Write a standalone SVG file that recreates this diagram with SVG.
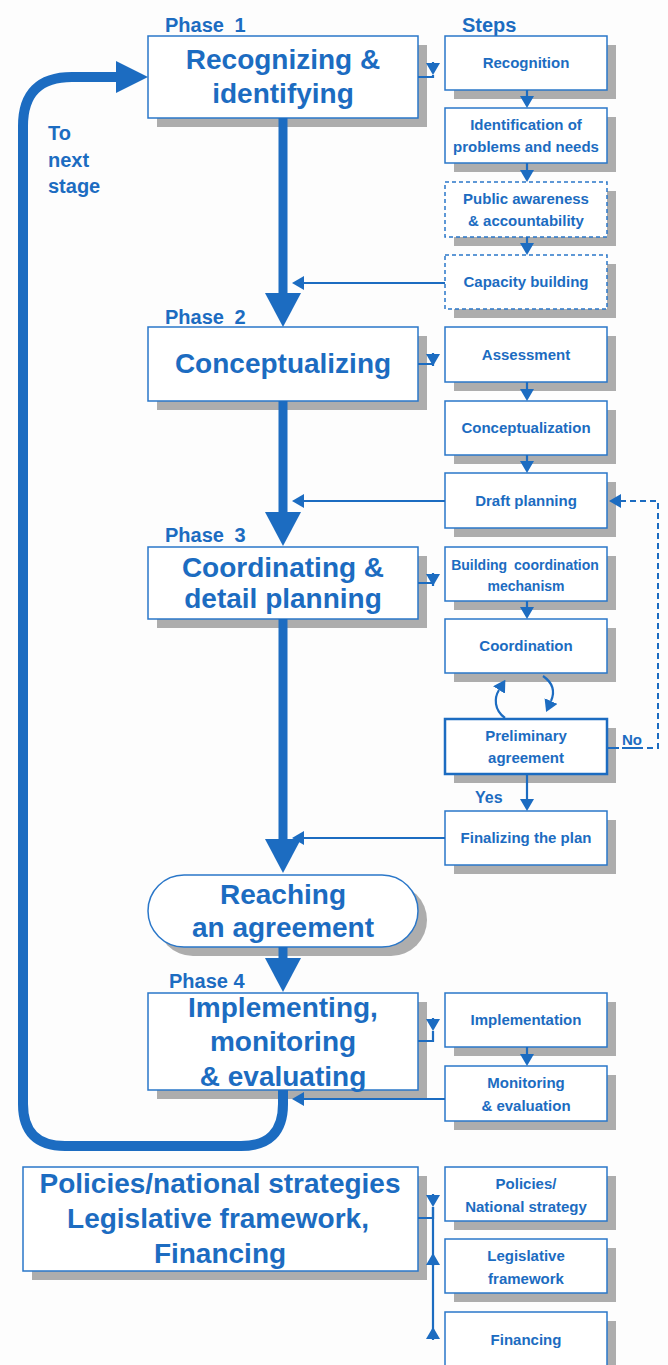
<svg xmlns="http://www.w3.org/2000/svg" width="668" height="1365" viewBox="0 0 668 1365">
<defs>
<style>
.bg{fill:#fdfdfd}
.sh{fill:#adadad}
.box{fill:#fff;stroke:#2a77c9;stroke-width:1.5}
.dash{stroke-dasharray:4 3}
.thick{stroke-width:2.5;stroke:#1c6cc1}
text{font-family:"Liberation Sans",Arial,sans-serif;font-weight:bold;fill:#1c6cc1}
.big{font-size:28px;text-anchor:middle}
.st{font-size:15px;text-anchor:middle}
.st14{font-size:14px;text-anchor:middle}
.lbl{font-size:20px}
.ln{fill:none;stroke:#1c6cc1;stroke-width:2.2}
.main{fill:none;stroke:#1c6cc1;stroke-width:9}
.loop{fill:none;stroke:#1c6cc1;stroke-width:10}
.dl{fill:none;stroke:#1c6cc1;stroke-width:2;stroke-dasharray:6 4}
</style>
<marker id="ah" viewBox="0 0 12 14" refX="0" refY="7" markerWidth="12" markerHeight="14" markerUnits="userSpaceOnUse" orient="auto"><path d="M0,0 L12,7 L0,14 Z" fill="#1c6cc1"/></marker>
<marker id="bigah" viewBox="0 0 34 36" refX="0" refY="18" markerWidth="34" markerHeight="36" markerUnits="userSpaceOnUse" orient="auto"><path d="M0,0 L34,18 L0,36 Z" fill="#1c6cc1"/></marker>
<marker id="loopah" viewBox="0 0 32 32" refX="0" refY="16" markerWidth="32" markerHeight="32" markerUnits="userSpaceOnUse" orient="auto"><path d="M0,0 L32,16 L0,32 Z" fill="#1c6cc1"/></marker>
</defs>
<rect class="bg" x="0" y="0" width="668" height="1365"/>

<g id="labels">
<text class="lbl" x="165" y="32" word-spacing="5">Phase 1</text>
<text class="lbl" x="462" y="32">Steps</text>
<text class="lbl" x="165" y="324" word-spacing="5">Phase 2</text>
<text class="lbl" x="165" y="542" word-spacing="5">Phase 3</text>
<text class="lbl" x="169" y="988">Phase 4</text>
<text class="lbl" x="48" y="140">To</text>
<text class="lbl" x="48" y="167">next</text>
<text class="lbl" x="48" y="193">stage</text>
<text x="475" y="803" font-size="16">Yes</text>
<text x="622" y="745" font-size="15">No</text>
</g>

<g id="phase1">
<rect class="sh" x="157" y="45" width="270" height="82"/>
<rect class="box" x="148" y="36" width="270" height="82"/>
<text class="big" x="283" y="69">Recognizing &amp;</text>
<text class="big" x="283" y="103">identifying</text>
</g>
<g id="phase2">
<rect class="sh" x="157" y="336" width="270" height="74"/>
<rect class="box" x="148" y="327" width="270" height="74"/>
<text class="big" x="283" y="373">Conceptualizing</text>
</g>
<g id="phase3">
<rect class="sh" x="157" y="556" width="270" height="72"/>
<rect class="box" x="148" y="547" width="270" height="72"/>
<text class="big" x="283" y="577">Coordinating &amp;</text>
<text class="big" x="283" y="608">detail planning</text>
</g>
<g id="reaching">
<rect class="sh" x="157" y="884" width="270" height="72" rx="36"/>
<rect class="box" x="148" y="875" width="270" height="72" rx="36"/>
<text class="big" x="283" y="904">Reaching</text>
<text class="big" x="283" y="937">an agreement</text>
</g>
<g id="phase4">
<rect class="sh" x="157" y="1002" width="270" height="97"/>
<rect class="box" x="148" y="993" width="270" height="97"/>
<text class="big" x="283" y="1017">Implementing,</text>
<text class="big" x="283" y="1051">monitoring</text>
<text class="big" x="283" y="1086">&amp; evaluating</text>
</g>
<g id="policies">
<rect class="sh" x="32" y="1176" width="395" height="104"/>
<rect class="box" x="23" y="1167" width="395" height="104"/>
<text class="big" x="220" y="1193">Policies/national strategies</text>
<text class="big" x="218" y="1228">Legislative framework,</text>
<text class="big" x="220" y="1263">Financing</text>
</g>

<g id="s-recognition">
<rect class="sh" x="454" y="45" width="162" height="54"/>
<rect class="box" x="445" y="36" width="162" height="54"/>
<text class="st" x="526" y="68">Recognition</text>
</g>
<g id="s-identification">
<rect class="sh" x="454" y="117" width="162" height="55"/>
<rect class="box" x="445" y="108" width="162" height="55"/>
<text class="st" x="526" y="130">Identification of</text>
<text class="st" x="526" y="152">problems and needs</text>
</g>
<g id="s-public">
<rect class="sh" x="454" y="191" width="162" height="55"/>
<rect class="box dash" x="445" y="182" width="162" height="55"/>
<text class="st" x="526" y="204">Public awareness</text>
<text class="st" x="526" y="226">&amp; accountability</text>
</g>
<g id="s-capacity">
<rect class="sh" x="454" y="264" width="162" height="54"/>
<rect class="box dash" x="445" y="255" width="162" height="54"/>
<text class="st" x="526" y="287">Capacity building</text>
</g>
<g id="s-assessment">
<rect class="sh" x="454" y="336" width="162" height="55"/>
<rect class="box" x="445" y="327" width="162" height="55"/>
<text class="st" x="526" y="360">Assessment</text>
</g>
<g id="s-conceptualization">
<rect class="sh" x="454" y="410" width="162" height="54"/>
<rect class="box" x="445" y="401" width="162" height="54"/>
<text class="st" x="526" y="433">Conceptualization</text>
</g>
<g id="s-draft">
<rect class="sh" x="454" y="482" width="162" height="55"/>
<rect class="box" x="445" y="473" width="162" height="55"/>
<text class="st" x="526" y="506">Draft planning</text>
</g>
<g id="s-building">
<rect class="sh" x="454" y="556" width="162" height="54"/>
<rect class="box" x="445" y="547" width="162" height="54"/>
<text class="st14" x="525" y="570" word-spacing="3">Building coordination</text>
<text class="st14" x="526" y="591">mechanism</text>
</g>
<g id="s-coordination">
<rect class="sh" x="454" y="628" width="162" height="54"/>
<rect class="box" x="445" y="619" width="162" height="54"/>
<text class="st" x="526" y="651">Coordination</text>
</g>
<g id="s-preliminary">
<rect class="sh" x="454" y="728" width="162" height="55"/>
<rect class="box thick" x="445" y="719" width="162" height="55"/>
<text class="st" x="526" y="741">Preliminary</text>
<text class="st" x="526" y="763">agreement</text>
</g>
<g id="s-finalizing">
<rect class="sh" x="454" y="820" width="162" height="54"/>
<rect class="box" x="445" y="811" width="162" height="54"/>
<text class="st" x="526" y="843">Finalizing the plan</text>
</g>
<g id="s-implementation">
<rect class="sh" x="454" y="1002" width="162" height="54"/>
<rect class="box" x="445" y="993" width="162" height="54"/>
<text class="st" x="526" y="1025">Implementation</text>
</g>
<g id="s-monitoring">
<rect class="sh" x="454" y="1075" width="162" height="55"/>
<rect class="box" x="445" y="1066" width="162" height="55"/>
<text class="st" x="526" y="1088">Monitoring</text>
<text class="st" x="526" y="1111">&amp; evaluation</text>
</g>
<g id="s-policies">
<rect class="sh" x="454" y="1176" width="162" height="54"/>
<rect class="box" x="445" y="1167" width="162" height="54"/>
<text class="st" x="526" y="1189">Policies/</text>
<text class="st" x="526" y="1212">National strategy</text>
</g>
<g id="s-legislative">
<rect class="sh" x="454" y="1248" width="162" height="54"/>
<rect class="box" x="445" y="1239" width="162" height="54"/>
<text class="st" x="526" y="1261">Legislative</text>
<text class="st" x="526" y="1284">framework</text>
</g>
<g id="s-financing">
<rect class="sh" x="454" y="1321" width="162" height="56"/>
<rect class="box" x="445" y="1312" width="162" height="56"/>
<text class="st" x="526" y="1345">Financing</text>
</g>

<g id="connectors">
<path class="main" d="M283,118 V293" marker-end="url(#bigah)"/>
<path class="main" d="M283,401 V512" marker-end="url(#bigah)"/>
<path class="main" d="M283,619 V839" marker-end="url(#bigah)"/>
<path class="main" d="M283,947 V958" marker-end="url(#bigah)"/>
<path class="loop" d="M283,1090 V1104 Q283,1146 241,1146 H65 Q23,1146 23,1104 V126 Q23,77 72,77 H116" marker-end="url(#loopah)"/>

<path class="ln" d="M445,283 H304" marker-end="url(#ah)"/>
<path class="ln" d="M445,501 H304" marker-end="url(#ah)"/>
<path class="ln" d="M445,838 H304" marker-end="url(#ah)"/>
<path class="ln" d="M445,1099 H304" marker-end="url(#ah)"/>

<path class="ln" d="M527,90 V96" marker-end="url(#ah)"/>
<path class="ln" d="M527,163 V170" marker-end="url(#ah)"/>
<path class="ln" d="M527,237 V243" marker-end="url(#ah)"/>
<path class="ln" d="M527,382 V389" marker-end="url(#ah)"/>
<path class="ln" d="M527,455 V461" marker-end="url(#ah)"/>
<path class="ln" d="M527,601 V607" marker-end="url(#ah)"/>
<path class="ln" d="M527,774 V799" marker-end="url(#ah)"/>
<path class="ln" d="M527,1047 V1054" marker-end="url(#ah)"/>

<path class="ln" d="M418,77 H433 V75 M433,62 V63" marker-end="url(#ah)"/>
<path class="ln" d="M418,364 H433 V366 M433,353 V354" marker-end="url(#ah)"/>
<path class="ln" d="M418,583 H433 V586 M433,573 V574" marker-end="url(#ah)"/>
<path class="ln" d="M418,1041 H433 V1031 M433,1018 V1019" marker-end="url(#ah)"/>
<path class="ln" d="M418,1218 H433 V1207 M433,1194 V1195" marker-end="url(#ah)"/>
<path class="ln" d="M433,1207 V1339"/>
<path class="ln" d="M433,1266 V1265" marker-end="url(#ah)"/>
<path class="ln" d="M433,1340 V1339" marker-end="url(#ah)"/>

<path class="ln" d="M505,718 C494,710 494,698 499,690" marker-end="url(#ah)"/>
<path class="ln" d="M543,676 C553,683 555,692 551,701" marker-end="url(#ah)"/>

<path class="ln" d="M607,748 H619 M622,748 H643"/>
<path class="dl" d="M647,748 H658 V501 H621" marker-end="url(#ah)"/>
</g>
</svg>
